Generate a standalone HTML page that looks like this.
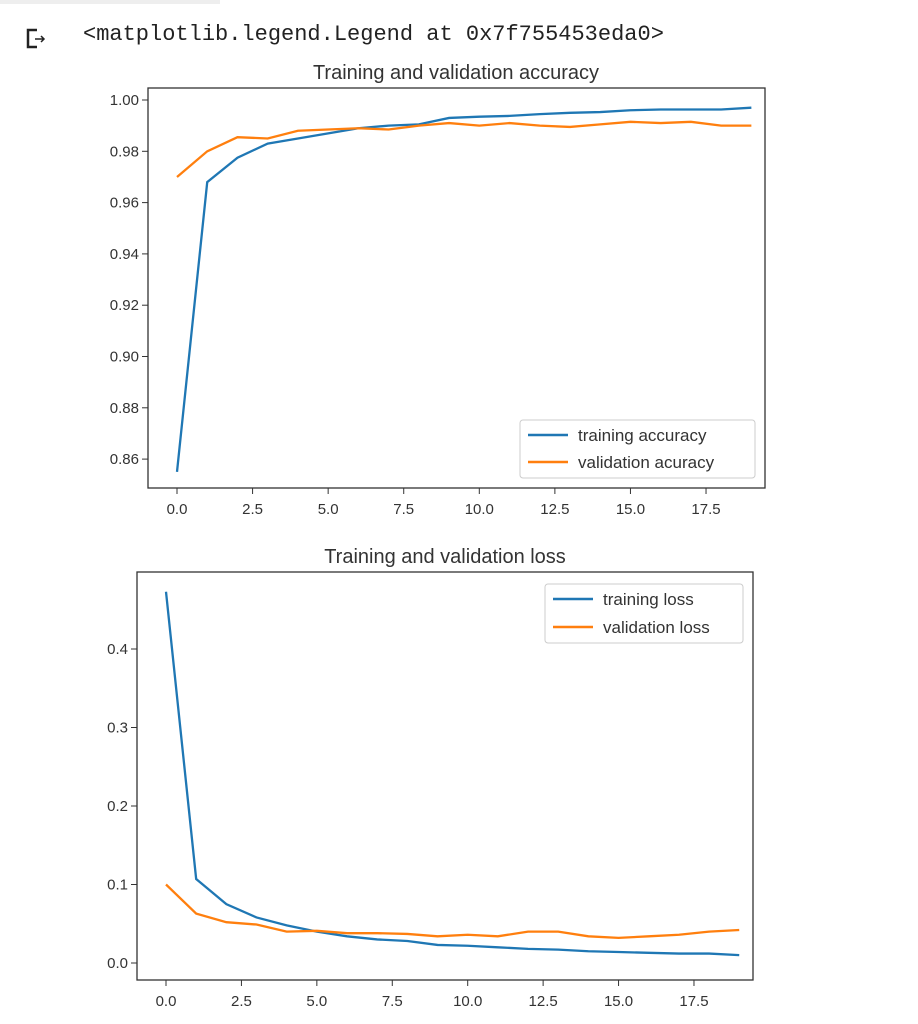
<!DOCTYPE html><html><head><style>body{margin:0;background:#fff;width:918px;height:1024px;overflow:hidden}</style></head><body>
<div style="position:absolute;left:0;top:0;width:220px;height:4px;background:#eee"></div>
<svg id="s" width="918" height="1024" style="position:absolute;left:0;top:0" font-family="Liberation Sans, DejaVu Sans, sans-serif">
<g stroke="#222" stroke-width="2.5" fill="none"><path d="M37 30H28V47H37"/><path d="M35 39h9m-3-3l3 3-3 3" stroke-width="1.5"/></g>
<text x="83" y="40" font-family="Liberation Mono, monospace" font-size="22" fill="#222">&lt;matplotlib.legend.Legend at 0x7f755453eda0&gt;</text>
<text x="456" y="79" font-size="20" text-anchor="middle" fill="#333">Training and validation accuracy</text>
<text x="445" y="563" font-size="20" text-anchor="middle" fill="#333">Training and validation loss</text>
<rect x="148" y="88" width="617" height="400" fill="none" stroke="#333" stroke-width="1.3"/>
<rect x="137" y="572" width="616" height="408" fill="none" stroke="#333" stroke-width="1.3"/>
<g id="t" font-size="15" fill="#333"></g>
<g id="l"></g>
<rect x="520" y="420" width="235" height="58" rx="3" fill="#fff" fill-opacity="0.8" stroke="#ccc"/>
<line x1="528" y1="435" x2="568" y2="435" stroke="#1f77b4" stroke-width="2.5"/>
<line x1="528" y1="462" x2="568" y2="462" stroke="#ff7f0e" stroke-width="2.5"/>
<text x="578" y="441" font-size="17" fill="#333">training accuracy</text>
<text x="578" y="468" font-size="17" fill="#333">validation acuracy</text>
<rect x="545" y="584" width="198" height="59" rx="3" fill="#fff" fill-opacity="0.8" stroke="#ccc"/>
<line x1="553" y1="599" x2="593" y2="599" stroke="#1f77b4" stroke-width="2.5"/>
<line x1="553" y1="627" x2="593" y2="627" stroke="#ff7f0e" stroke-width="2.5"/>
<text x="603" y="605" font-size="17" fill="#333">training loss</text>
<text x="603" y="633" font-size="17" fill="#333">validation loss</text>
</svg>
<script>
var N="http://www.w3.org/2000/svg",t=document.getElementById('t'),l=document.getElementById('l');
function el(n,a,p,txt){var e=document.createElementNS(N,n);for(var k in a)e.setAttribute(k,a[k]);if(txt)e.textContent=txt;p.appendChild(e);}
var xl=['0.0','2.5','5.0','7.5','10.0','12.5','15.0','17.5'];
xl.forEach(function(s,i){var x=177+i*2.5*30.23;el('line',{x1:x,x2:x,y1:488,y2:494,stroke:'#333'},t);el('text',{x:x,y:514,'text-anchor':'middle'},t,s);
x=166+i*2.5*30.17;el('line',{x1:x,x2:x,y1:980,y2:986,stroke:'#333'},t);el('text',{x:x,y:1006,'text-anchor':'middle'},t,s);});
['1.00','0.98','0.96','0.94','0.92','0.90','0.88','0.86'].forEach(function(s,i){var y=100+i*51.3;el('line',{x1:142,x2:148,y1:y,y2:y,stroke:'#333'},t);el('text',{x:139,y:y+5,'text-anchor':'end'},t,s);});
['0.0','0.1','0.2','0.3','0.4'].forEach(function(s,i){var y=963-i*78.5;el('line',{x1:131,x2:137,y1:y,y2:y,stroke:'#333'},t);el('text',{x:128,y:y+5,'text-anchor':'end'},t,s);});
function pl(d,fx,fy,c){el('polyline',{points:d.map(function(v,i){return fx(i)+','+fy(v)}).join(' '),fill:'none',stroke:c,'stroke-width':2.3},l);}
var ax=function(i){return 177+i*30.23},ay=function(v){return 100+(1-v)/0.02*51.3};
var bx=function(i){return 166+i*30.17},by=function(v){return 963-v*785};
pl([0.855,0.968,0.9775,0.983,0.985,0.987,0.989,0.990,0.9905,0.993,0.9935,0.9938,0.9945,0.995,0.9953,0.996,0.9963,0.9963,0.9963,0.997],ax,ay,'#1f77b4');
pl([0.970,0.980,0.9855,0.985,0.988,0.9885,0.989,0.9885,0.990,0.991,0.990,0.991,0.990,0.9895,0.9905,0.9915,0.991,0.9915,0.990,0.990],ax,ay,'#ff7f0e');
pl([0.473,0.107,0.075,0.058,0.048,0.040,0.034,0.030,0.028,0.023,0.022,0.020,0.018,0.017,0.015,0.014,0.013,0.012,0.012,0.010],bx,by,'#1f77b4');
pl([0.100,0.063,0.052,0.049,0.040,0.041,0.038,0.038,0.037,0.034,0.036,0.034,0.040,0.040,0.034,0.032,0.034,0.036,0.040,0.042],bx,by,'#ff7f0e');
</script>
</body></html>
